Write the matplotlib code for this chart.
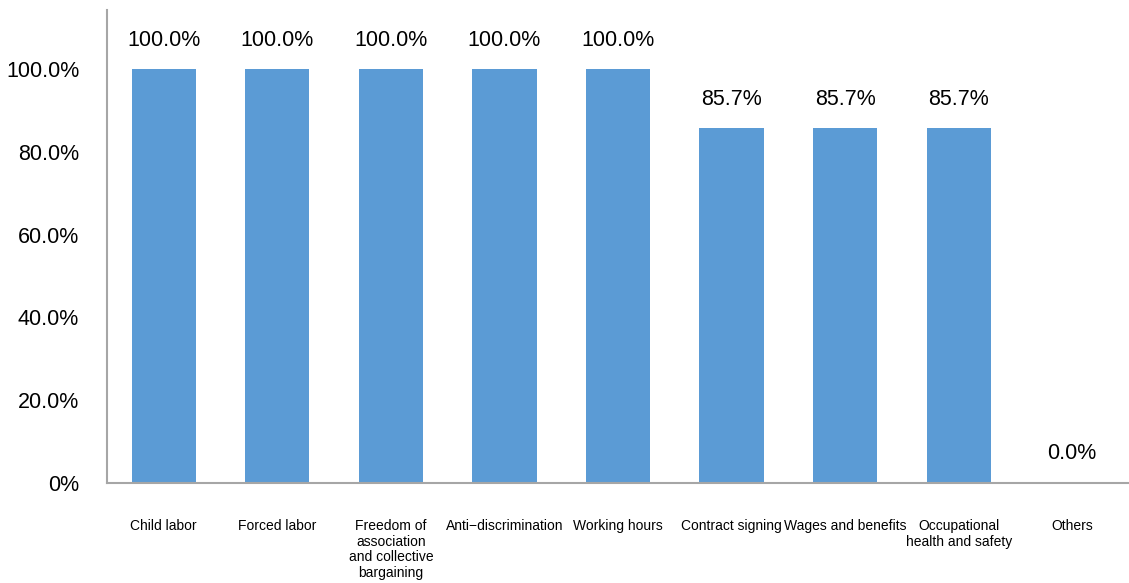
import matplotlib
matplotlib.use("Agg")
import matplotlib.pyplot as plt

categories = ["Child labor", "Forced labor", "Freedom of\nassociation\nand collective\nbargaining",
              "Anti\u2212discrimination", "Working hours", "Contract signing",
              "Wages and benefits", "Occupational\nhealth and safety", "Others"]
values = [100.0, 100.0, 100.0, 100.0, 100.0, 85.7, 85.7, 85.7, 0.0]
yticks = [0, 20, 40, 60, 80, 100]
ytick_labels = ["0%", "20.0%", "40.0%", "60.0%", "80.0%", "100.0%"]

plt.rcParams['font.family'] = ['Liberation Sans', 'DejaVu Sans']

fig = plt.figure(figsize=(11.29, 5.83), dpi=100)
ax = fig.add_axes([107/1129, 100/583, 1 - 107/1129, 473/583])
x = list(range(len(categories)))
ax.bar(x, values, width=0.565, color="#5B9BD5")
for xi, v in zip(x, values):
    ax.annotate(f"{v:.1f}%", (xi, v), xytext=(0, 21), textcoords="offset points",
                ha="center", va="center", fontsize=15.5)

ax.set_xlim(-0.5, 8.5)
ax.set_ylim(0, 114.3)
ax.set_yticks(yticks)
ax.set_yticklabels(ytick_labels, fontsize=15.5)
ax.set_xticks(x)
ax.set_xticklabels(categories, fontsize=10, linespacing=1.15)
ax.tick_params(axis="both", length=0)
ax.tick_params(axis="y", pad=20)
ax.tick_params(axis="x", pad=26)
for s in ["top", "right"]:
    ax.spines[s].set_visible(False)
for s in ["left", "bottom"]:
    ax.spines[s].set_color("#A6A6A6")
    ax.spines[s].set_linewidth(1.5)

fig.savefig("out.png", dpi=100)
